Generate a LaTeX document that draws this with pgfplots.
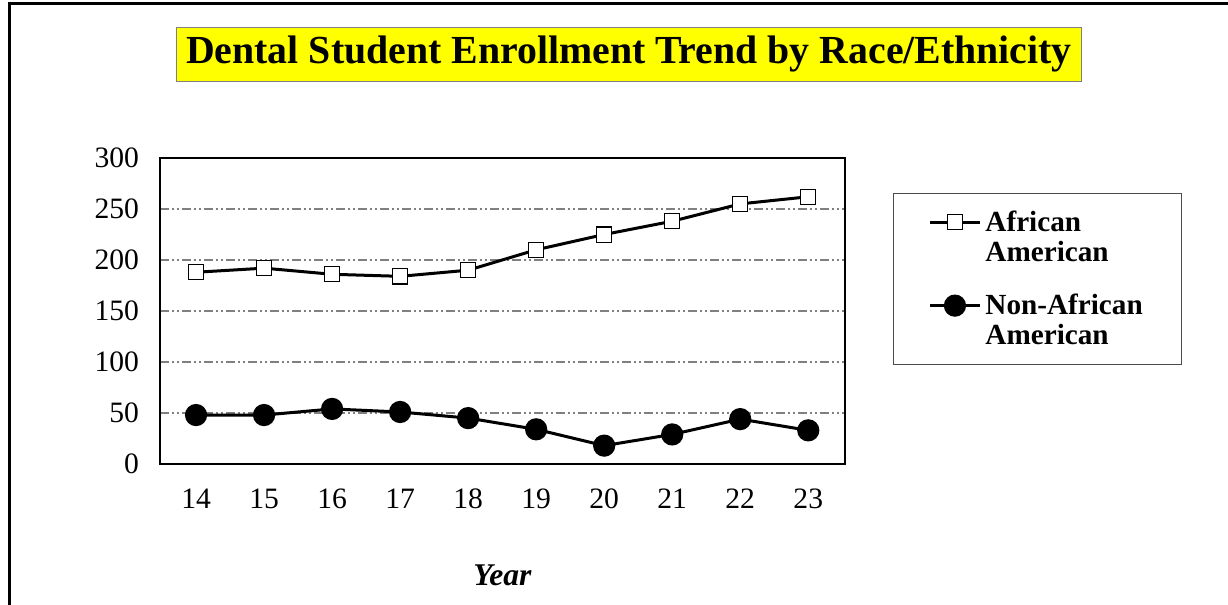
\documentclass[border=0pt]{standalone}
\usepackage{fontspec}
\setmainfont{Liberation Serif}
\usepackage{pgfplots}
\pgfplotsset{compat=1.18}
\definecolor{titleyellow}{HTML}{FFFF00}
\definecolor{gridgray}{HTML}{808080}

\begin{document}
\begin{tikzpicture}
% 1px of the reference = 0.5pt
\useasboundingbox (0pt,0pt) rectangle (614pt,-302.5pt);
% outer frame (top and left edges only)
\draw[line width=1.5pt] (4.5pt,-302.5pt) -- (4.5pt,-1.5pt) -- (614pt,-1.5pt);
% title
\node[fill=titleyellow, draw=gray, line width=0.5pt, inner xsep=5pt,
      minimum height=27pt, font=\bfseries\fontsize{19.9}{22}\selectfont]
  at (314.5pt,-27pt) {Dental Student Enrollment Trend by Race/Ethnicity};

\begin{axis}[
    at={(80pt,-232pt)}, anchor=south west,
    scale only axis, width=342.5pt, height=153pt,
    xmin=13.47, xmax=23.54, ymin=0, ymax=300,
    xtick={14,...,23}, ytick={0,50,...,300},
    major tick length=0pt,
    axis line style={line width=1.2pt},
    ymajorgrids,
    grid style={gridgray, line width=0.7pt,
        dash pattern=on 4.5pt off 1.5pt on 1pt off 1.5pt on 1pt off 1.5pt},
    /pgf/number format/assume math mode=true,
    tick label style={font=\fontsize{14.8}{16}\selectfont},
    yticklabel style={xshift=-7pt},
    xticklabel style={yshift=-9pt},
    xlabel={\textbf{\textit{Year}}},
    xlabel style={font=\fontsize{15.8}{18}\selectfont, yshift=-21pt},
    legend style={at={(1.070,0.8856)}, anchor=north west,
        draw=gray!60!black, line width=0.5pt,
        font=\bfseries\fontsize{14.6}{15}\selectfont,
        cells={anchor=base west, align=left},
        inner xsep=17.5pt, inner ysep=6.5pt, row sep=11pt},
    % the text cell's base is its last line; put the symbol at the first line
    legend image code/.code={
        \draw[#1, mark repeat=2, mark phase=2]
            plot coordinates {(0pt,19.5pt) (12.5pt,19.5pt) (25pt,19.5pt)};
    },
]
\addplot[black, line width=1.5pt, mark=square*,
    mark size=3.8pt, mark options={fill=white, draw=black, line width=0.6pt}]
    coordinates {
    (14,188) (15,192) (16,186) (17,184) (18,190)
    (19,210) (20,225) (21,238) (22,255) (23,262)
};
\addlegendentry{African\\American}
\addplot[black, line width=1.5pt, mark=*,
    mark size=4.8pt, mark options={fill=black, draw=black}]
    coordinates {
    (14,48) (15,48) (16,54) (17,51) (18,45)
    (19,34) (20,18) (21,29) (22,44) (23,33)
};
\addlegendentry{Non-African\\American}
\end{axis}
\end{tikzpicture}
\end{document}
